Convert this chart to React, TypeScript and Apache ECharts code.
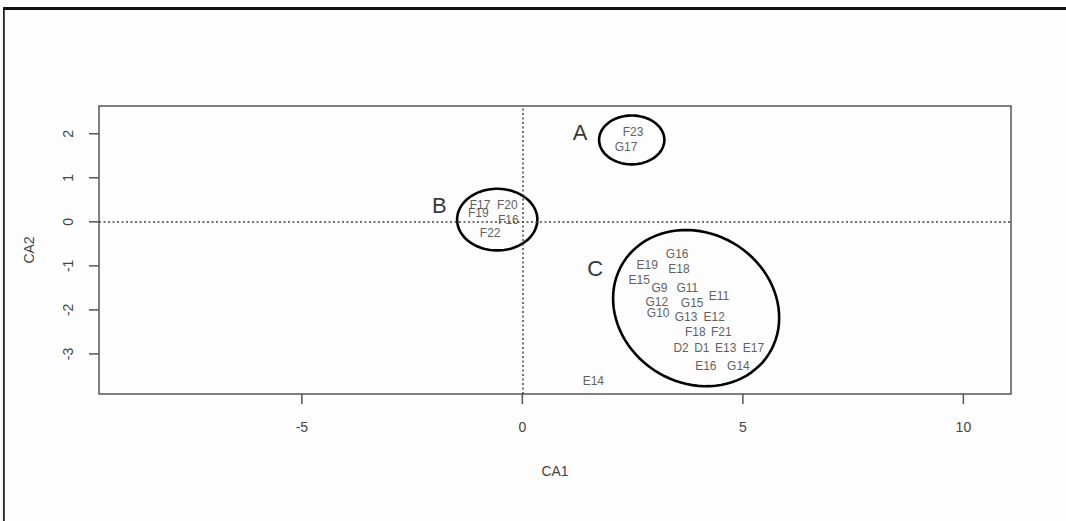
import React, { useEffect, useRef } from "react";
import * as echarts from "echarts";

// Row labels of the correspondence analysis
const pointNames = [
  "F23", "G17",
  "F17", "F20", "F19", "F16", "F22",
  "G16", "E19", "E18", "E15", "G9", "G11", "E11", "G12", "G15", "G10",
  "G13", "E12", "F18", "F21", "D2", "D1", "E13", "E17", "E16", "G14",
  "E14",
];
const ca1 = [
  2.51, 2.35,
  -0.96, -0.34, -1.0, -0.32, -0.73,
  3.51, 2.83, 3.55, 2.65, 3.11, 3.74, 4.46, 3.05, 3.85, 3.08,
  3.71, 4.35, 3.92, 4.51, 3.6, 4.07, 4.61, 5.24, 4.16, 4.9,
  1.61,
];
const ca2 = [
  2.04, 1.7,
  0.38, 0.39, 0.2, 0.04, -0.25,
  -0.72, -0.97, -1.08, -1.32, -1.51, -1.51, -1.68, -1.83, -1.85, -2.06,
  -2.17, -2.17, -2.51, -2.51, -2.87, -2.87, -2.87, -2.87, -3.27, -3.27,
  -3.61,
];

// Cluster annotations
const groupLetters = ["A", "B", "C"];
const letterX = [1.31, -1.88, 1.65];
const letterY = [2.03, 0.36, -1.06];
const ellipseCx = [2.48, -0.57, 3.94];
const ellipseCy = [1.86, 0.05, -1.96];
const ellipseA = [0.74, 0.91, 1.95];
const ellipseB = [0.555, 0.7, 1.7];
const ellipseAngle = [0, 0, 32];

// Axes
const xTicks = [-5, 0, 5, 10];
const yTicks = [-3, -2, -1, 0, 1, 2];
const xMin = -9.6;
const xMax = 11.08;
const yMin = -3.91;
const yMax = 2.63;

const FONT = "'Liberation Sans', Arial, sans-serif";
const TICK_LEN = 10;
const GRID = { left: 99, top: 106, width: 912, height: 288 };

export default function App() {
  const ref = useRef<HTMLDivElement>(null);

  useEffect(() => {
    if (!ref.current) return;
    const chart = echarts.init(ref.current, undefined, { renderer: "svg" });

    const points = pointNames.map((n, i) => ({ name: n, value: [ca1[i], ca2[i]] }));
    const letters = groupLetters.map((n, i) => ({ name: n, value: [letterX[i], letterY[i]] }));
    const ellipses = groupLetters.map((_, i) => [
      ellipseCx[i], ellipseCy[i], ellipseA[i], ellipseB[i], ellipseAngle[i],
    ]);

    const bottom = GRID.top + GRID.height;
    const left = GRID.left;
    // initial tick positions follow the grid's linear mapping; refined below with the axes' scales
    const tickRects = (fx: (v: number) => number, fy: (v: number) => number) => [
      ...xTicks.map((v, i) => ({
        id: "xt" + i,
        type: "rect",
        z: 100,
        shape: { x: fx(v) - 0.75, y: bottom, width: 1.5, height: TICK_LEN },
        style: { fill: "#555" },
      })),
      ...yTicks.map((v, i) => ({
        id: "yt" + i,
        type: "rect",
        z: 100,
        shape: { x: left - TICK_LEN, y: fy(v) - 0.75, width: TICK_LEN, height: 1.5 },
        style: { fill: "#555" },
      })),
    ];
    const linX = (v: number) => GRID.left + ((v - xMin) / (xMax - xMin)) * GRID.width;
    const linY = (v: number) => GRID.top + ((yMax - v) / (yMax - yMin)) * GRID.height;

    const frame = [
      { id: "frameTop", type: "rect", shape: { x: 3, y: 7, width: 1063, height: 3 }, style: { fill: "#111" } },
      { id: "frameLeft", type: "rect", shape: { x: 3, y: 7, width: 1.8, height: 514 }, style: { fill: "#222" } },
    ];

    chart.setOption({
      animation: false,
      backgroundColor: "#fdfdfd",
      textStyle: { fontFamily: FONT },
      grid: {
        ...GRID,
        show: true,
        borderColor: "#555",
        borderWidth: 1.5,
        backgroundColor: "transparent",
      },
      xAxis: {
        type: "value",
        position: "bottom",
        min: xMin,
        max: xMax,
        name: "CA1",
        nameLocation: "middle",
        nameGap: 70,
        nameTextStyle: { fontSize: 14, color: "#444", fontFamily: FONT },
        axisLine: { show: false, onZero: false },
        splitLine: { show: false },
        axisTick: { show: false },
        axisLabel: {
          customValues: xTicks,
          margin: 26,
          fontSize: 14,
          color: "#444",
          fontFamily: FONT,
        },
      },
      yAxis: {
        type: "value",
        position: "left",
        min: yMin,
        max: yMax,
        name: "CA2",
        nameLocation: "middle",
        nameRotate: 90,
        nameGap: 63,
        nameTextStyle: { fontSize: 14, color: "#444", fontFamily: FONT },
        axisLine: { show: false, onZero: false },
        splitLine: { show: false },
        axisTick: { show: false },
        axisLabel: {
          customValues: yTicks,
          rotate: 90,
          margin: 24,
          fontSize: 14,
          color: "#444",
          fontFamily: FONT,
        },
      },
      graphic: { elements: [...frame, ...tickRects(linX, linY)] },
      series: [
        {
          type: "scatter",
          symbolSize: 0,
          data: [],
          silent: true,
          markLine: {
            silent: true,
            symbol: "none",
            label: { show: false },
            lineStyle: { type: [2, 2.5], color: "#444", width: 1.5 },
            data: [{ xAxis: 0 }, { yAxis: 0 }],
          },
        },
        {
          type: "custom",
          silent: true,
          data: ellipses,
          renderItem: (params: any, api: any) => {
            const c = api.coord([api.value(0), api.value(1)]);
            const s = api.size([1, 1]);
            const a = api.value(2);
            const b = api.value(3);
            const th = (api.value(4) * Math.PI) / 180;
            const pts: number[][] = [];
            const n = 90;
            for (let i = 0; i < n; i++) {
              const p = (i / n) * Math.PI * 2;
              const ex = a * Math.cos(p);
              const ey = b * Math.sin(p);
              const rx = ex * Math.cos(th) - ey * Math.sin(th);
              const ry = ex * Math.sin(th) + ey * Math.cos(th);
              pts.push([c[0] + rx * s[0], c[1] + ry * s[1]]);
            }
            return {
              type: "polygon",
              shape: { points: pts },
              style: { fill: "none", stroke: "#000", lineWidth: 2.6 },
            };
          },
        },
        {
          type: "scatter",
          symbolSize: 0,
          silent: true,
          data: points,
          label: {
            show: true,
            position: "inside",
            formatter: "{b}",
            fontSize: 12,
            color: "#333",
            fontFamily: FONT,
          },
        },
        {
          type: "scatter",
          symbolSize: 0,
          silent: true,
          data: letters,
          label: {
            show: true,
            position: "inside",
            formatter: "{b}",
            fontSize: 22,
            color: "#000",
            fontFamily: FONT,
          },
        },
      ],
    });

    // Refine the tick positions with the axes' own scales
    try {
      const sx = (v: number) => {
        const r = chart.convertToPixel({ xAxisIndex: 0 } as any, v) as any;
        return typeof r === "number" && isFinite(r) ? r : linX(v);
      };
      const sy = (v: number) => {
        const r = chart.convertToPixel({ yAxisIndex: 0 } as any, v) as any;
        return typeof r === "number" && isFinite(r) ? r : linY(v);
      };
      chart.setOption({ graphic: { elements: [...frame, ...tickRects(sx, sy)] } });
    } catch (e) {}

    return () => chart.dispose();
  }, []);

  return (
    <div
      ref={ref}
      style={{ position: "fixed", left: 0, top: 0, width: 1066, height: 521 }}
    />
  );
}
